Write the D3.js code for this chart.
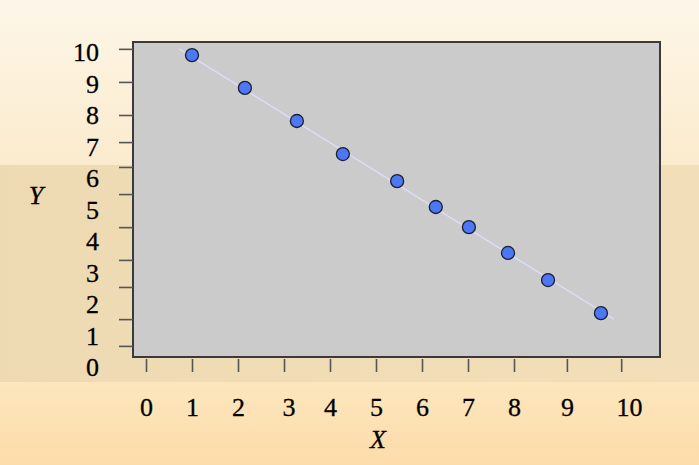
<!DOCTYPE html>
<html lang="en">
<head>
<meta charset="UTF-8">
<title>Y vs X</title>
<script src="https://cdn.jsdelivr.net/npm/d3@7"></script>
<style>
  * { margin: 0; padding: 0; }
  body { width: 699px; height: 465px; overflow: hidden; }
</style>
</head>
<body>
<script>
const width = 699
const height = 465

// points
const xValues = [1.00, 2.15, 3.28, 4.28, 5.46, 6.30, 7.02, 7.87, 8.74, 9.89]
const yValues = [9.90, 8.86, 7.81, 6.76, 5.90, 5.08, 4.44, 3.62, 2.76, 1.71]

// fitted line ends
const lineX = [0.72, 10.17]
const lineY = [10.10, 1.52]

// tick labels and where the (uneven) labels and tick marks sit
const tickLabels = ['0', '1', '2', '3', '4', '5', '6', '7', '8', '9', '10']
const xLabelAt = [0, 1, 2, 3.1, 4, 5, 6, 7, 8, 9.15, 10.5]
const xTickAt = [0, 1, 2, 3, 4, 5, 6, 7, 8, 9.15, 10.33]
const yLabelAt = [0, 1, 2, 3, 4, 5, 6, 7, 8, 9, 10]
const yTickAt = [0.67, 1.52, 2.54, 3.40, 4.44, 5.49, 6.35, 7.14, 8.0, 9.05, 10.1]

const plot = { left: 133, top: 42, right: 660, bottom: 357 }
const font = '"Liberation Serif", "Times New Roman", serif'
const fontSize = '26px'

const svg = d3.select('body').append('svg')
    .attr('width', width)
    .attr('height', height)

// background
const defs = svg.append('defs')
const g1 = defs.append('linearGradient').attr('id', 'bgTop')
    .attr('x1', 0).attr('y1', 0).attr('x2', 0).attr('y2', 1)
g1.append('stop').attr('offset', '0%').attr('stop-color', '#fdf6e8')
g1.append('stop').attr('offset', '100%').attr('stop-color', '#fbebcd')
const g2 = defs.append('linearGradient').attr('id', 'bgBand')
    .attr('x1', 0).attr('y1', 0).attr('x2', 1).attr('y2', 0)
g2.append('stop').attr('offset', '0%').attr('stop-color', '#eedab2')
g2.append('stop').attr('offset', '100%').attr('stop-color', '#f2dfb9')
const g3 = defs.append('linearGradient').attr('id', 'bgBottom')
    .attr('x1', 0).attr('y1', 0).attr('x2', 0).attr('y2', 1)
g3.append('stop').attr('offset', '0%').attr('stop-color', '#fde6bd')
g3.append('stop').attr('offset', '100%').attr('stop-color', '#fcdcaa')

svg.append('rect').attr('width', width).attr('height', 165).attr('fill', 'url(#bgTop)')
svg.append('rect').attr('y', 165).attr('width', width).attr('height', 217).attr('fill', 'url(#bgBand)')
svg.append('rect').attr('y', 382).attr('width', width).attr('height', height - 382).attr('fill', 'url(#bgBottom)')

const xScale = d3.scaleLinear().domain([0, 10]).range([146, 606])
const yScale = d3.scaleLinear().domain([0, 10]).range([367, 52])

// plot panel
svg.append('rect')
    .attr('x', plot.left)
    .attr('y', plot.top)
    .attr('width', plot.right - plot.left)
    .attr('height', plot.bottom - plot.top)
    .attr('fill', '#cbcbcb')
    .attr('stroke', '#3a3a3a')
    .attr('stroke-width', 2)

// tick marks
const xTicks = d3.axisBottom(xScale).tickValues(xTickAt).tickFormat('').tickSize(13).tickSizeOuter(0)
const gxt = svg.append('g').attr('transform', 'translate(0,' + (plot.bottom + 2) + ')').call(xTicks)
gxt.select('.domain').remove()
gxt.selectAll('line').attr('stroke', '#555').attr('stroke-width', 1.6)

const yTicks = d3.axisLeft(yScale).tickValues(yTickAt).tickFormat('').tickSize(14).tickSizeOuter(0)
const gyt = svg.append('g').attr('transform', 'translate(' + plot.left + ',0)').call(yTicks)
gyt.select('.domain').remove()
gyt.selectAll('line').attr('stroke', '#555').attr('stroke-width', 1.6)

// tick labels
const xLabels = d3.axisBottom(xScale).tickValues(xLabelAt)
    .tickFormat((d, i) => tickLabels[i]).tickSize(0)
const gxl = svg.append('g').attr('transform', 'translate(0,399)').call(xLabels)
gxl.select('.domain').remove()
gxl.selectAll('text').attr('dy', 0).attr('y', 17)
    .style('font-family', font).style('font-size', fontSize).attr('fill', '#000')
    .attr('stroke', '#000').attr('stroke-width', 0.3)

const yLabels = d3.axisLeft(yScale).tickValues(yLabelAt)
    .tickFormat((d, i) => tickLabels[i]).tickSize(0)
const gyl = svg.append('g').attr('transform', 'translate(99,0)').call(yLabels)
gyl.select('.domain').remove()
gyl.selectAll('text').attr('x', 0).attr('dy', '0.34em')
    .style('font-family', font).style('font-size', fontSize).attr('fill', '#000')
    .attr('stroke', '#000').attr('stroke-width', 0.3)

// axis titles
svg.append('text').attr('x', 36).attr('y', 204).attr('text-anchor', 'middle')
    .style('font-family', font).style('font-style', 'italic').style('font-size', fontSize)
    .attr('stroke', '#000').attr('stroke-width', 0.3).text('Y')
svg.append('text').attr('x', 378).attr('y', 448).attr('text-anchor', 'middle')
    .style('font-family', font).style('font-style', 'italic').style('font-size', fontSize)
    .attr('stroke', '#000').attr('stroke-width', 0.3).text('X')

// fitted line
svg.append('path')
    .datum(d3.range(lineX.length))
    .attr('d', d3.line().x(i => xScale(lineX[i])).y(i => yScale(lineY[i])))
    .attr('stroke', '#dcdcf6')
    .attr('stroke-width', 1.5)
    .attr('fill', 'none')

// points
svg.selectAll('.pt')
    .data(xValues)
    .enter()
    .append('circle')
    .attr('class', 'pt')
    .attr('cx', d => xScale(d))
    .attr('cy', (d, i) => yScale(yValues[i]))
    .attr('r', 6.5)
    .attr('fill', '#4c78f6')
    .attr('stroke', '#1b1f33')
    .attr('stroke-width', 1.3)
</script>
</body>
</html>
